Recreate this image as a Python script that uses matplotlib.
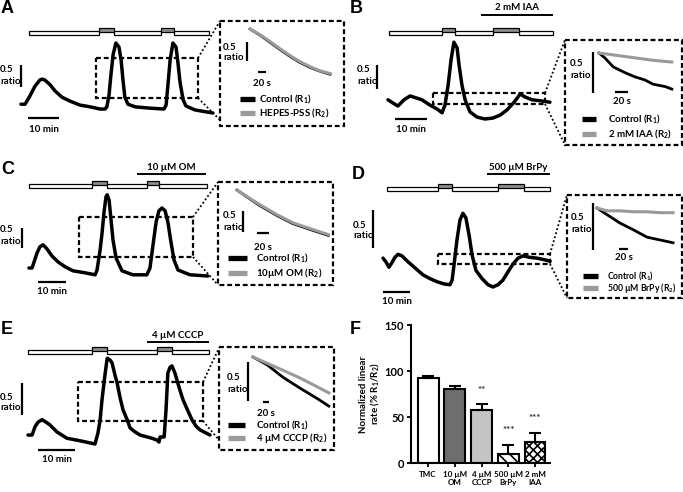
import matplotlib
matplotlib.use('Agg')
import matplotlib.pyplot as plt
from matplotlib.patches import Rectangle
import numpy as np

plt.rcParams['font.family'] = ['Lato', 'DejaVu Sans']
plt.rcParams['font.weight'] = 'bold'
plt.rcParams['mathtext.fontset'] = 'custom'
plt.rcParams['mathtext.rm'] = 'Lato:bold'
plt.rcParams['mathtext.it'] = 'Lato:bold:italic'
plt.rcParams['mathtext.bf'] = 'Lato:bold'
plt.rcParams['hatch.linewidth'] = 1.2

# ---------------- data: main traces (time in min, fura ratio) ----------------
tA = [0, 1.3, 2.9, 4.5, 6.1, 6.8, 7.7, 9.4, 11.0, 13.2, 15.8, 19.0, 22.3, 25.5, 27.1, 27.7, 28.4, 29.0, 29.7, 30.6,
      31.6, 32.3, 32.9, 33.5, 34.5, 36.8, 41.6, 46.1, 46.8, 47.4, 48.1, 49.0, 50.0, 50.6, 51.3, 52.3, 53.2, 56.1, 61.9]
rA = [0.20, 0.20, 0.39, 0.61, 0.75, 0.77, 0.75, 0.64, 0.50, 0.36, 0.27, 0.18, 0.14, 0.09, 0.09, 0.14, 0.41, 0.86, 1.32, 1.59,
      1.50, 1.20, 0.75, 0.36, 0.20, 0.14, 0.11, 0.09, 0.18, 0.64, 1.20, 1.59, 1.50, 1.16, 0.70, 0.30, 0.16, 0.07, 0.0]

tB = [0, 1.6, 3.1, 5.0, 6.9, 8.8, 10.6, 13.1, 15.3, 16.9, 17.8, 18.8, 19.7, 20.6, 21.6, 22.2, 23.1, 24.1, 25.6, 27.8,
      30.3, 32.8, 35.0, 37.2, 39.4, 41.3, 42.8, 45.0, 47.5, 50.6]
rB = [0.40, 0.33, 0.27, 0.40, 0.48, 0.44, 0.40, 0.29, 0.21, 0.13, 0.29, 0.71, 1.23, 1.60, 1.48, 1.13, 0.71, 0.40, 0.15, 0.04,
      0.0, 0.02, 0.08, 0.19, 0.35, 0.52, 0.46, 0.40, 0.38, 0.35]

tC = [0, 1.1, 2.9, 3.9, 5.0, 6.4, 8.2, 10.4, 12.9, 15.7, 20.0, 23.6, 24.3, 25.4, 26.1, 26.8, 27.5, 27.9, 28.6, 29.3,
      30.0, 31.1, 33.2, 37.1, 42.1, 43.2, 44.3, 45.4, 46.4, 47.5, 48.6, 49.6, 50.7, 51.8, 53.2, 57.5, 63.9]
rC = [0.20, 0.20, 0.58, 0.73, 0.78, 0.68, 0.50, 0.35, 0.23, 0.13, 0.08, 0.03, 0.15, 0.65, 1.08, 1.60, 1.98, 2.03, 1.90, 1.40,
      0.90, 0.45, 0.13, 0.03, 0.03, 0.20, 0.78, 1.35, 1.63, 1.70, 1.63, 1.35, 0.85, 0.40, 0.15, 0.03, 0.0]

tD = [0, 1.1, 2.2, 3.3, 4.4, 5.6, 7.0, 9.3, 11.9, 14.8, 17.4, 20.0, 22.6, 24.8, 25.6, 26.3, 27.4, 28.5, 29.6, 30.7,
      31.9, 33.0, 34.4, 36.7, 38.9, 40.7, 42.6, 44.4, 46.3, 48.1, 50.0, 51.9, 54.4, 57.0, 59.6, 61.9]
rD = [0.38, 0.33, 0.26, 0.32, 0.39, 0.43, 0.41, 0.33, 0.25, 0.16, 0.11, 0.07, 0.04, 0.03, 0.09, 0.29, 0.62, 0.88, 0.97, 0.91,
      0.68, 0.42, 0.22, 0.11, 0.03, 0.0, 0.03, 0.09, 0.20, 0.30, 0.38, 0.41, 0.39, 0.38, 0.36, 0.34]

tE = [0, 1.1, 1.9, 2.7, 3.8, 4.9, 5.9, 7.8, 10.5, 14.1, 18.1, 18.9, 19.5, 20.0, 20.8, 21.4, 22.2, 22.7, 23.5, 24.1,
      24.9, 25.7, 26.8, 27.6, 28.9, 30.3, 32.2, 33.5, 34.9, 35.4, 35.7, 36.8, 37.3, 37.8, 38.4, 38.9, 39.7, 40.8, 41.9, 43.2,
      44.3, 45.4, 46.5, 49.2]
rE = [0.14, 0.14, 0.27, 0.34, 0.38, 0.34, 0.30, 0.19, 0.09, 0.05, 0.0, 0.17, 0.38, 0.69, 1.08, 1.34, 1.31, 1.27, 1.08, 0.95,
      0.72, 0.53, 0.38, 0.25, 0.19, 0.14, 0.11, 0.09, 0.06, 0.03, 0.11, 0.11, 0.53, 1.11, 1.20, 1.22, 1.11, 0.89, 0.69, 0.52,
      0.38, 0.28, 0.22, 0.14]

# valve / perfusion protocol (min)
valveA_span = (2.6, 60.6); stimsA = [(25.2, 30.0), (45.2, 49.4)]
valveB_span = (0.3, 51.6); stimsB = [(16.9, 20.9), (32.8, 40.9)]
valveC_span = (0.0, 63.6); stimsC = [(22.5, 27.9), (42.1, 46.4)]
valveD_span = (1.5, 61.9); stimsD = [(20.4, 25.6), (42.6, 52.2)]
valveE_span = (0.0, 48.9); stimsE = [(17.3, 21.4), (34.9, 38.9)]
drugB = (29.1, 51.6); drugB_label = "2 mM IAA"
drugC = (38.6, 63.2); drugC_label = "10 µM OM"
drugD = (38.5, 61.9); drugD_label = "500 µM BrPy"
drugE = (32.2, 48.9); drugE_label = "4 µM CCCP"

# ---------------- data: inset traces (time in s, ratio change) ----------------
iA_t = [0, 25, 50, 75, 100, 125, 150, 175, 200]
iA_r1 = [0, -0.16, -0.35, -0.54, -0.72, -0.88, -1.01, -1.11, -1.19]
iA_r2 = [0, -0.15, -0.33, -0.52, -0.70, -0.86, -0.99, -1.10, -1.17]

iB_t1 = [0, 9, 22, 40, 55, 71, 83, 102, 112]
iB_r1 = [0, -0.06, -0.17, -0.24, -0.29, -0.33, -0.38, -0.41, -0.44]
iB_t2 = [0, 28, 56, 84, 112]
iB_r2 = [0, -0.03, -0.06, -0.09, -0.11]

iC_t = [0, 17, 38, 67, 93, 122, 152]
iC_r1 = [0, -0.17, -0.37, -0.61, -0.80, -0.94, -1.08]
iC_r2 = [0, -0.16, -0.35, -0.59, -0.78, -0.92, -1.06]

iD_t = [0, 22, 51, 80, 111, 140, 169]
iD_r1 = [0, -0.07, -0.16, -0.23, -0.31, -0.34, -0.37]
iD_r2 = [0, -0.03, -0.03, -0.04, -0.04, -0.05, -0.05]

iE_t = [0, 47, 100, 157, 213, 253]
iE_r1 = [0, -0.10, -0.26, -0.40, -0.53, -0.63]
iE_r2 = [0, -0.08, -0.17, -0.27, -0.38, -0.46]

legendA = ["Control (R$_1$)", "HEPES-PSS (R$_2$)"]
legendB = ["Control (R$_1$)", "2 mM IAA (R$_2$)"]
legendC = ["Control (R$_1$)", "10µM OM (R$_2$)"]
legendD = ["Control (R$_1$)", "500 µM BrPy (R$_2$)"]
legendE = ["Control (R$_1$)", "4 µM CCCP (R$_2$)"]

# ---------------- data: panel F ----------------
f_labels = ["TMC", "10 µM\nOM", "4 µM\nCCCP", "500 µM\nBrPy", "2 mM\nIAA"]
f_means = [92, 80, 58, 10, 23]
f_errs = [3, 3.5, 6, 10, 10]
f_sig = ["", "", "**", "***", "***"]

# ---------------- figure ----------------
W, H = 683, 492
fig = plt.figure(figsize=(W / 100, H / 100), dpi=100)
ov = fig.add_axes([0, 0, 1, 1])
ov.set_xlim(0, W); ov.set_ylim(H, 0); ov.axis('off')

TXT = dict(fontsize=7, fontweight='bold')
GRAY = '#9a9a9a'


def mapped(x0, y0, sx, sy):
    ax = fig.add_axes([0, 0, 1, 1])
    ax.set_xlim(-x0 / sx, (W - x0) / sx)
    ax.set_ylim((y0 - H) / sy, y0 / sy)
    ax.axis('off')
    return ax


def main_trace(t, r, x0, y0, ppm, ppr):
    ax = mapped(x0, y0, ppm, ppr)
    ax.plot(t, r, color='black', lw=2.5, solid_joinstyle='round', solid_capstyle='round')


def valve(x0, ppm, span, stims, ytop):
    px = lambda v: x0 + v * ppm
    edges = [span[0]] + [e for s in stims for e in s] + [span[1]]
    for i in range(0, len(edges), 2):
        a, b = edges[i], edges[i + 1]
        ov.add_patch(Rectangle((px(a), ytop), px(b) - px(a), 4, fc='white', ec='black', lw=0.9))
    for a, b in stims:
        ov.add_patch(Rectangle((px(a), ytop - 3), px(b) - px(a), 4, fc='#8c8c8c', ec='black', lw=0.9))


def drug(x0, ppm, period, y, label):
    a, b = x0 + period[0] * ppm, x0 + period[1] * ppm
    ov.plot([a, b], [y, y], color='black', lw=1.4, solid_capstyle='butt')
    ov.text((a + b) / 2, y - 2.5, label, ha='center', va='bottom', **TXT)


def ratio_bar(x, ybottom, ppr, tx, ty1, ty2):
    ov.plot([x, x], [ybottom, ybottom - 0.5 * ppr], color='black', lw=1.6, solid_capstyle='butt')
    ov.text(tx, ty1, "0.5", ha='left', va='center', **TXT)
    ov.text(tx, ty2, "ratio", ha='left', va='center', **TXT)


def time_bar(x, y, length_px, label, ty):
    ov.plot([x, x + length_px], [y, y], color='black', lw=1.6, solid_capstyle='butt')
    ov.text(x + length_px / 2, ty, label, ha='center', va='center', **TXT)


def dashed_box(x1, y1, x2, y2, lw=1.6):
    ov.add_patch(Rectangle((x1, y1), x2 - x1, y2 - y1, fill=False, ec='black', lw=lw,
                           linestyle=(0, (2.2, 1.3))))


def dotted(p1, p2):
    ov.plot([p1[0], p2[0]], [p1[1], p2[1]], color='black', lw=1.3, linestyle=(0, (1, 1.3)))


def inset(x0, y0, pps, ppr, t1, r1, t2, r2):
    ax = mapped(x0, y0, pps, ppr)
    ax.plot(t2, r2, color=GRAY, lw=2.2, zorder=3)
    ax.plot(t1, r1, color='black', lw=2.0, zorder=2)


def legend(x1, x2, ty, y1, y2, labels, fs=7):
    ov.plot([x1, x2], [y1, y1], color='black', lw=3.8, solid_capstyle='butt')
    ov.plot([x1, x2], [y2, y2], color=GRAY, lw=3.8, solid_capstyle='butt')
    ov.text(ty, y1, labels[0], ha='left', va='center', fontsize=fs, fontweight='bold')
    ov.text(ty, y2, labels[1], ha='left', va='center', fontsize=fs, fontweight='bold')


def letter(x, y, s):
    ov.text(x, y, s, ha='left', va='top', fontsize=13, fontweight='bold',
            family=['Liberation Sans', 'DejaVu Sans'])


# ----- Panel A -----
letter(1, 0, "A")
main_trace(tA, rA, 21, 113, 3.1, 44)
valve(21, 3.1, valveA_span, stimsA, 31)
ratio_bar(21, 87, 44, 0, 70, 82)
time_bar(28, 118, 10 * 3.1, "10 min", 129)
dashed_box(96, 58, 198, 98)
dashed_box(220, 21, 344, 126)
dotted((198, 58), (220, 21)); dotted((198, 98), (220, 120))
inset(250, 29, 0.4, 38, iA_t, iA_r1, iA_t, iA_r2)
ratio_bar(247, 61, 38, 223, 47, 57)
time_bar(258, 72, 20 * 0.4, "20 s", 83)
legend(240, 255, 259, 99, 113, legendA)

# ----- Panel B -----
letter(350, 0, "B")
main_trace(tB, rB, 388, 119, 3.2, 48)
valve(388, 3.2, valveB_span, stimsB, 31)
drug(388, 3.2, drugB, 15, drugB_label)
ratio_bar(377, 89, 48, 357, 70, 82)
time_bar(395, 119, 10 * 3.2, "10 min", 130)
dashed_box(433, 93, 545, 104)
dashed_box(565, 40, 682, 145)
dotted((545, 93), (565, 40)); dotted((545, 104), (565, 145))
inset(599, 53, 0.65, 82, iB_t1, iB_r1, iB_t2, iB_r2)
ratio_bar(593, 93, 82, 570, 63, 75)
time_bar(615, 92, 20 * 0.65, "20 s", 101)
legend(582, 596, 608, 119, 134, legendB)

# ----- Panel C -----
letter(1, 161, "C")
main_trace(tC, rC, 29, 276, 2.8, 40)
valve(29, 2.8, valveC_span, stimsC, 184)
drug(29, 2.8, drugC, 174, drugC_label)
ratio_bar(22, 248, 40, 0, 230, 242)
time_bar(38, 282, 10 * 2.8, "10 min", 292)
dashed_box(79, 217, 193, 257)
dashed_box(218, 182, 333, 285)
dotted((193, 217), (218, 182)); dotted((193, 257), (218, 285))
inset(237, 190, 0.6, 42, iC_t, iC_r1, iC_t, iC_r2)
ratio_bar(243, 232, 42, 223, 216, 227)
time_bar(257, 233, 20 * 0.6, "20 s", 247)
legend(228, 247, 256, 258, 273, legendC)

# ----- Panel D -----
letter(352, 166, "D")
main_trace(tD, rD, 383, 287, 2.7, 76)
valve(383, 2.7, valveD_span, stimsD, 187)
drug(383, 2.7, drugD, 174, drugD_label)
ratio_bar(373, 248, 76, 353, 225, 236)
time_bar(383, 292, 10 * 2.7, "10 min", 302)
dashed_box(438, 254, 550, 264)
dashed_box(567, 195, 682, 298)
dotted((550, 254), (567, 195)); dotted((550, 264), (567, 298))
inset(597, 208, 0.45, 94, iD_t, iD_r1, iD_t, iD_r2)
ratio_bar(593, 250, 94, 571, 218, 230)
time_bar(619, 249, 20 * 0.45, "20 s", 258)
legend(583, 598, 607, 276, 288, legendD, fs=6.2)

# ----- Panel E -----
letter(1, 321, "E")
main_trace(tE, rE, 28, 444, 3.7, 64)
valve(28, 3.7, valveE_span, stimsE, 350)
drug(28, 3.7, drugE, 342, drugE_label)
ratio_bar(22, 415, 64, 0, 397, 408)
time_bar(38, 450, 10 * 3.7, "10 min", 460)
dashed_box(78, 382, 203, 421)
dashed_box(219, 347, 334, 450)
dotted((203, 382), (219, 348)); dotted((203, 421), (219, 440))
inset(253, 357, 0.3, 78, iE_t, iE_r1, iE_t, iE_r2)
ratio_bar(248, 401, 78, 227, 378, 389)
time_bar(263, 402, 20 * 0.3, "20 s", 413)
legend(228, 245, 256, 425, 438, legendE)

# ----- Panel F -----
letter(350, 321, "F")
axF = fig.add_axes([411 / W, 1 - 463 / H, 139 / W, 138 / H])
x = np.arange(len(f_means))
faces = ['white', '#6e6e6e', '#c4c4c4', 'white', 'white']
hatches = [None, None, None, '\\\\\\', 'xxxx']
bars = axF.bar(x, f_means, width=0.78, color=faces, edgecolor='black', linewidth=1.5, zorder=2)
for b, h in zip(bars, hatches):
    if h:
        b.set_hatch(h)
axF.errorbar(x, f_means, yerr=[np.zeros(len(f_errs)), f_errs], fmt='none', ecolor='black',
             elinewidth=1.5, capsize=4, capthick=1.5, zorder=3)
for xi, m, e, s in zip(x, f_means, f_errs, f_sig):
    if s:
        axF.text(xi, m + e + 15, s, ha='center', va='center', fontsize=7, color='#333333')
axF.set_xlim(-0.64, 4.56)
axF.set_ylim(0, 150)
axF.set_yticks([0, 50, 100, 150])
axF.set_xticks(x)
axF.set_xticklabels(f_labels, fontsize=5.8, fontweight='bold', linespacing=1.15)
axF.tick_params(axis='y', labelsize=8, length=3, width=1.3, pad=2)
axF.tick_params(axis='x', length=3, width=1.3, pad=3)
for lab in axF.get_yticklabels():
    lab.set_fontweight('bold')
for sp in ['top', 'right']:
    axF.spines[sp].set_visible(False)
for sp in ['left', 'bottom']:
    axF.spines[sp].set_linewidth(1.5)
axF.patch.set_alpha(0)
axF.set_ylabel("Normalized linear\nrate (% R$_1$/R$_2$)", fontsize=7, fontweight='bold', labelpad=2,
               linespacing=1.1)

fig.savefig("out.png", dpi=100)
